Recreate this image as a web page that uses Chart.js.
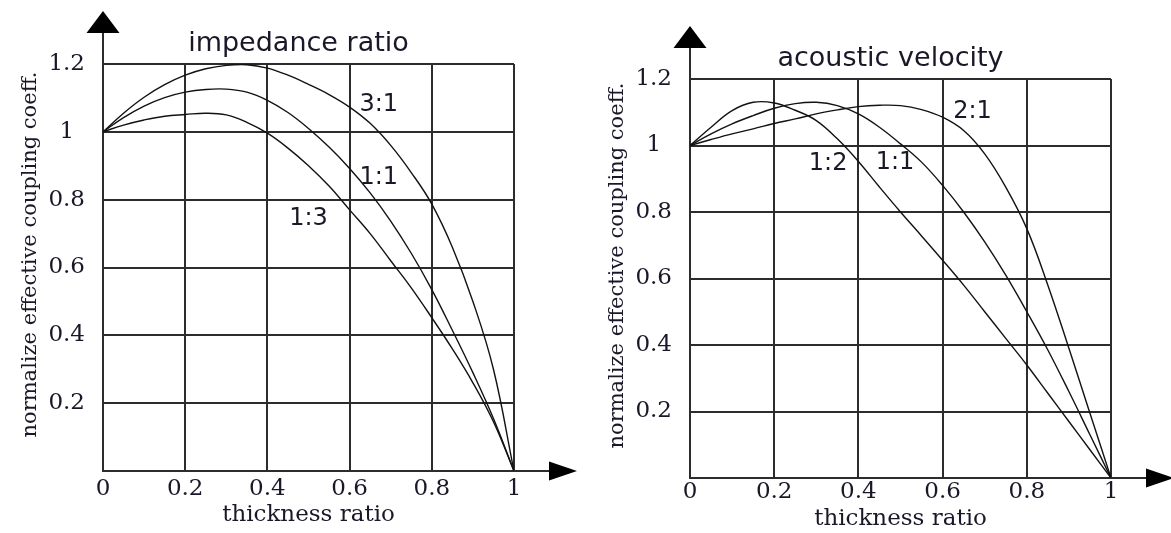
<!DOCTYPE html>
<html>
<head>
<meta charset="utf-8">
<script src="https://cdn.jsdelivr.net/npm/chart.js@4.4.1/dist/chart.umd.min.js"></script>
<style>
  html, body { margin: 0; padding: 0; background: #fff; overflow: hidden; }
  #wrap { position: relative; width: 1171px; height: 533px; }
  canvas { position: absolute; top: 0; }
  #impedanceChart { left: 0; }
  #velocityChart { left: 580px; }
</style>
</head>
<body>
<div id="wrap">
  <canvas id="impedanceChart" width="580" height="533"></canvas>
  <canvas id="velocityChart" width="591" height="533"></canvas>
</div>
<script>
// thickness ratio samples shared by every curve
const thickness = [0, 0.05, 0.1, 0.15, 0.2, 0.25, 0.3, 0.35, 0.4, 0.45, 0.5,
                   0.55, 0.6, 0.65, 0.7, 0.75, 0.8, 0.85, 0.9, 0.95, 1];

// normalized effective coupling, impedance ratio 3:1 / 1:1 / 1:3
const impedance31 = [1.0, 1.055, 1.102, 1.139, 1.167, 1.186, 1.196, 1.198, 1.188, 1.167, 1.14,
                     1.11, 1.073, 1.025, 0.96, 0.88, 0.787, 0.66, 0.5, 0.3, 0];
const impedance11 = [1.0, 1.042, 1.076, 1.101, 1.117, 1.125, 1.126, 1.117, 1.093, 1.057, 1.01,
                     0.955, 0.892, 0.82, 0.737, 0.642, 0.535, 0.415, 0.29, 0.155, 0];
const impedance13 = [1.0, 1.02, 1.035, 1.046, 1.051, 1.055, 1.05, 1.028, 0.996, 0.952, 0.9,
                     0.84, 0.77, 0.7, 0.62, 0.54, 0.452, 0.36, 0.26, 0.145, 0];

// normalized effective coupling, acoustic velocity ratio 2:1 / 1:1 / 1:2
const velocity21 = [1.0, 1.018, 1.035, 1.05, 1.066, 1.08, 1.095, 1.107, 1.117, 1.121, 1.12,
                    1.108, 1.085, 1.045, 0.975, 0.875, 0.75, 0.58, 0.39, 0.195, 0];
const velocity11 = [1.0, 1.035, 1.065, 1.09, 1.112, 1.126, 1.13, 1.12, 1.095, 1.055, 1.005,
                    0.95, 0.88, 0.8, 0.71, 0.61, 0.5, 0.385, 0.26, 0.13, 0];
const velocity12 = [1.0, 1.055, 1.105, 1.13, 1.128, 1.106, 1.075, 1.02, 0.952, 0.875, 0.8,
                    0.728, 0.655, 0.58, 0.5, 0.42, 0.34, 0.255, 0.17, 0.085, 0];

const impedanceNames = ['3:1', '1:1', '1:3'];
const velocityNames = ['2:1', '1:2', '1:1'];

// where each ratio name sits, in axis units
const impedanceNameAt = [[0.671, 1.08], [0.671, 0.864], [0.5, 0.745]];
const velocityNameAt = [[0.671, 1.10], [0.328, 0.945], [0.487, 0.948]];

const xTickLabels = ['0', '0.2', '0.4', '0.6', '0.8', '1'];
const yTickLabels = ['', '0.2', '0.4', '0.6', '0.8', '1', '1.2'];

const xTitle = 'thickness ratio';
const yTitle = 'normalize effective coupling coeff.';

const ink = '#1a1828';
const lineInk = '#2c2c2c';

// arrows on the axes, chart title, rotated y title and the ratio names
const figureDecor = {
  id: 'figureDecor',
  afterDraw(chart, args, opts) {
    const { ctx, chartArea: a, scales: { x, y } } = chart;
    ctx.save();

    ctx.strokeStyle = lineInk;
    ctx.lineWidth = 2;
    ctx.beginPath();
    ctx.moveTo(a.left, a.top);
    ctx.lineTo(a.left, a.top - 32);
    ctx.moveTo(a.right, a.bottom);
    ctx.lineTo(a.right + 36, a.bottom);
    ctx.stroke();

    ctx.fillStyle = '#000';
    ctx.beginPath();
    ctx.moveTo(a.left, a.top - 53);
    ctx.lineTo(a.left - 16.5, a.top - 31);
    ctx.lineTo(a.left + 16.5, a.top - 31);
    ctx.closePath();
    ctx.fill();
    ctx.beginPath();
    ctx.moveTo(a.right + 63, a.bottom);
    ctx.lineTo(a.right + 35, a.bottom - 9.5);
    ctx.lineTo(a.right + 35, a.bottom + 9.5);
    ctx.closePath();
    ctx.fill();

    ctx.fillStyle = ink;
    ctx.textAlign = 'center';
    ctx.textBaseline = 'alphabetic';
    ctx.font = '27px "DejaVu Sans"';
    ctx.fillText(opts.title, (a.left + a.right) / 2 - 10, a.top - 13);

    ctx.save();
    ctx.translate(a.left - 72, (a.top + a.bottom) / 2 - 13);
    ctx.rotate(-Math.PI / 2);
    ctx.textBaseline = 'middle';
    ctx.font = '21px "DejaVu Serif"';
    ctx.fillText(yTitle, 0, 0);
    ctx.restore();

    ctx.textBaseline = 'middle';
    ctx.font = '24px "DejaVu Sans"';
    opts.names.forEach((name, i) => {
      const [vx, vy] = opts.nameAt[i];
      ctx.fillText(name, x.getPixelForValue(vx), y.getPixelForValue(vy));
    });

    ctx.restore();
  }
};

function curve(values) {
  return {
    data: thickness.map((t, i) => ({ x: t, y: values[i] })),
    borderColor: '#121212',
    borderWidth: 1.4,
    pointRadius: 0,
    fill: false,
    tension: 0.4
  };
}

function buildChart(id, series, cfg) {
  const serif = '"DejaVu Serif", serif';
  return new Chart(document.getElementById(id), {
    type: 'line',
    data: { datasets: series.map(curve) },
    plugins: [figureDecor],
    options: {
      responsive: false,
      devicePixelRatio: 1,
      animation: false,
      layout: { padding: { top: cfg.top, right: cfg.right, left: 0, bottom: 0 } },
      plugins: {
        legend: { display: false },
        tooltip: { enabled: false },
        figureDecor: { title: cfg.title, names: cfg.names, nameAt: cfg.nameAt }
      },
      scales: {
        x: {
          type: 'linear',
          min: 0,
          max: 1,
          afterFit: s => { s.height = cfg.xHeight; },
          ticks: {
            stepSize: 0.2,
            color: ink,
            padding: cfg.tickPad,
            font: { family: serif, size: 23 },
            callback: (v, i) => xTickLabels[i]
          },
          grid: { color: lineInk, lineWidth: 2, drawTicks: false },
          border: { display: true, color: lineInk, width: 2 },
          title: {
            display: true,
            text: xTitle,
            color: ink,
            font: { family: serif, size: 23 },
            padding: { top: 0, bottom: cfg.titlePad }
          }
        },
        y: {
          type: 'linear',
          min: 0,
          max: 1.2,
          afterFit: s => { s.width = cfg.yWidth; },
          ticks: {
            stepSize: 0.2,
            color: ink,
            padding: 18,
            crossAlign: 'center',
            font: { family: serif, size: 23 },
            callback: (v, i) => yTickLabels[i]
          },
          grid: { color: lineInk, lineWidth: 2, drawTicks: false },
          border: { display: true, color: lineInk, width: 2 }
        }
      }
    }
  });
}

buildChart('impedanceChart', [impedance31, impedance11, impedance13], {
  title: 'impedance ratio',
  names: impedanceNames,
  nameAt: impedanceNameAt,
  top: 64, right: 66, yWidth: 103, xHeight: 62, tickPad: 4, titlePad: 4
});

buildChart('velocityChart', [velocity21, velocity11, velocity12], {
  title: 'acoustic velocity',
  names: velocityNames,
  nameAt: velocityNameAt,
  top: 79, right: 60, yWidth: 110, xHeight: 55, tickPad: 0, titlePad: 0.5
});
</script>
</body>
</html>
